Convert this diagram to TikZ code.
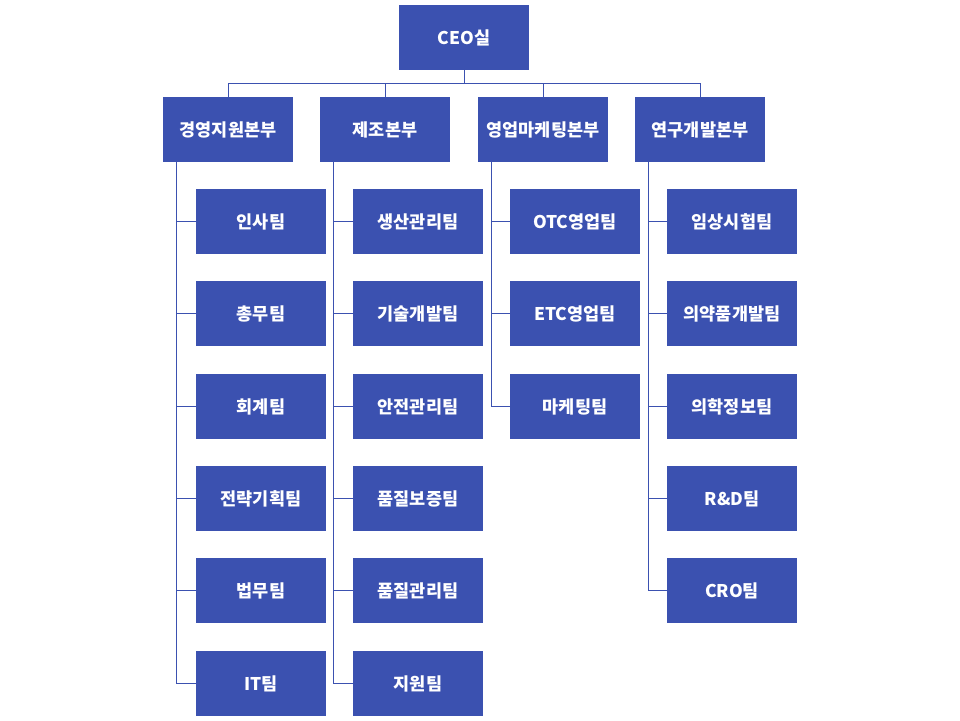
\documentclass[tikz,border=0pt]{standalone}
\usepackage{fontspec}
\setmainfont{Noto Sans CJK KR}
\definecolor{orgblue}{RGB}{59,81,176}
\tikzset{
  unit/.style = {fill=orgblue, text=white, font=\fontsize{17.5}{19}\selectfont\bfseries,
                 minimum width=130pt, minimum height=65pt, inner sep=0pt},
  link/.style = {draw=orgblue, line width=1pt}
}
\begin{document}
\begin{tikzpicture}[x=1pt, y=1pt]
            \useasboundingbox (0,0) rectangle (960,-720);
            \node[unit] (ceo) at (464,-37.5) {CEO실};

            \node[unit] (mgmt) at (228,-129.5) {경영지원본부};
            \node[unit] (mfg) at (385,-129.5) {제조본부};
            \node[unit] (sales) at (543,-129.5) {영업마케팅본부};
            \node[unit] (rnd) at (700,-129.5) {연구개발본부};

            \node[unit] (mgmt1) at (261,-221.5) {인사팀};
            \node[unit] (mgmt2) at (261,-313.5) {총무팀};
            \node[unit] (mgmt3) at (261,-406.5) {회계팀};
            \node[unit] (mgmt4) at (261,-498.5) {전략기획팀};
            \node[unit] (mgmt5) at (261,-590.5) {법무팀};
            \node[unit] (mgmt6) at (261,-683.5) {IT팀};

            \node[unit] (mfg1) at (418,-221.5) {생산관리팀};
            \node[unit] (mfg2) at (418,-313.5) {기술개발팀};
            \node[unit] (mfg3) at (418,-406.5) {안전관리팀};
            \node[unit] (mfg4) at (418,-498.5) {품질보증팀};
            \node[unit] (mfg5) at (418,-590.5) {품질관리팀};
            \node[unit] (mfg6) at (418,-683.5) {지원팀};

            \node[unit] (sales1) at (575,-221.5) {OTC영업팀};
            \node[unit] (sales2) at (575,-313.5) {ETC영업팀};
            \node[unit] (sales3) at (575,-406.5) {마케팅팀};

            \node[unit] (rnd1) at (732,-221.5) {임상시험팀};
            \node[unit] (rnd2) at (732,-313.5) {의약품개발팀};
            \node[unit] (rnd3) at (732,-406.5) {의학정보팀};
            \node[unit] (rnd4) at (732,-498.5) {R\&D팀};
            \node[unit] (rnd5) at (732,-590.5) {CRO팀};

            % CEO to divisions
            \draw[link] (ceo.south) -- ++(0,-13) -| (mgmt.north);
            \draw[link] (ceo.south) -- ++(0,-13) -| (mfg.north);
            \draw[link] (ceo.south) -- ++(0,-13) -| (sales.north);
            \draw[link] (ceo.south) -- ++(0,-13) -| (rnd.north);

            % divisions to teams
            \draw[link] ([xshift=14pt]mgmt.south west) |- (mgmt1.west);
            \draw[link] ([xshift=14pt]mgmt.south west) |- (mgmt2.west);
            \draw[link] ([xshift=14pt]mgmt.south west) |- (mgmt3.west);
            \draw[link] ([xshift=14pt]mgmt.south west) |- (mgmt4.west);
            \draw[link] ([xshift=14pt]mgmt.south west) |- (mgmt5.west);
            \draw[link] ([xshift=14pt]mgmt.south west) |- (mgmt6.west);

            \draw[link] ([xshift=14pt]mfg.south west) |- (mfg1.west);
            \draw[link] ([xshift=14pt]mfg.south west) |- (mfg2.west);
            \draw[link] ([xshift=14pt]mfg.south west) |- (mfg3.west);
            \draw[link] ([xshift=14pt]mfg.south west) |- (mfg4.west);
            \draw[link] ([xshift=14pt]mfg.south west) |- (mfg5.west);
            \draw[link] ([xshift=14pt]mfg.south west) |- (mfg6.west);

            \draw[link] ([xshift=14pt]sales.south west) |- (sales1.west);
            \draw[link] ([xshift=14pt]sales.south west) |- (sales2.west);
            \draw[link] ([xshift=14pt]sales.south west) |- (sales3.west);

            \draw[link] ([xshift=14pt]rnd.south west) |- (rnd1.west);
            \draw[link] ([xshift=14pt]rnd.south west) |- (rnd2.west);
            \draw[link] ([xshift=14pt]rnd.south west) |- (rnd3.west);
            \draw[link] ([xshift=14pt]rnd.south west) |- (rnd4.west);
            \draw[link] ([xshift=14pt]rnd.south west) |- (rnd5.west);
\end{tikzpicture}
\end{document}
